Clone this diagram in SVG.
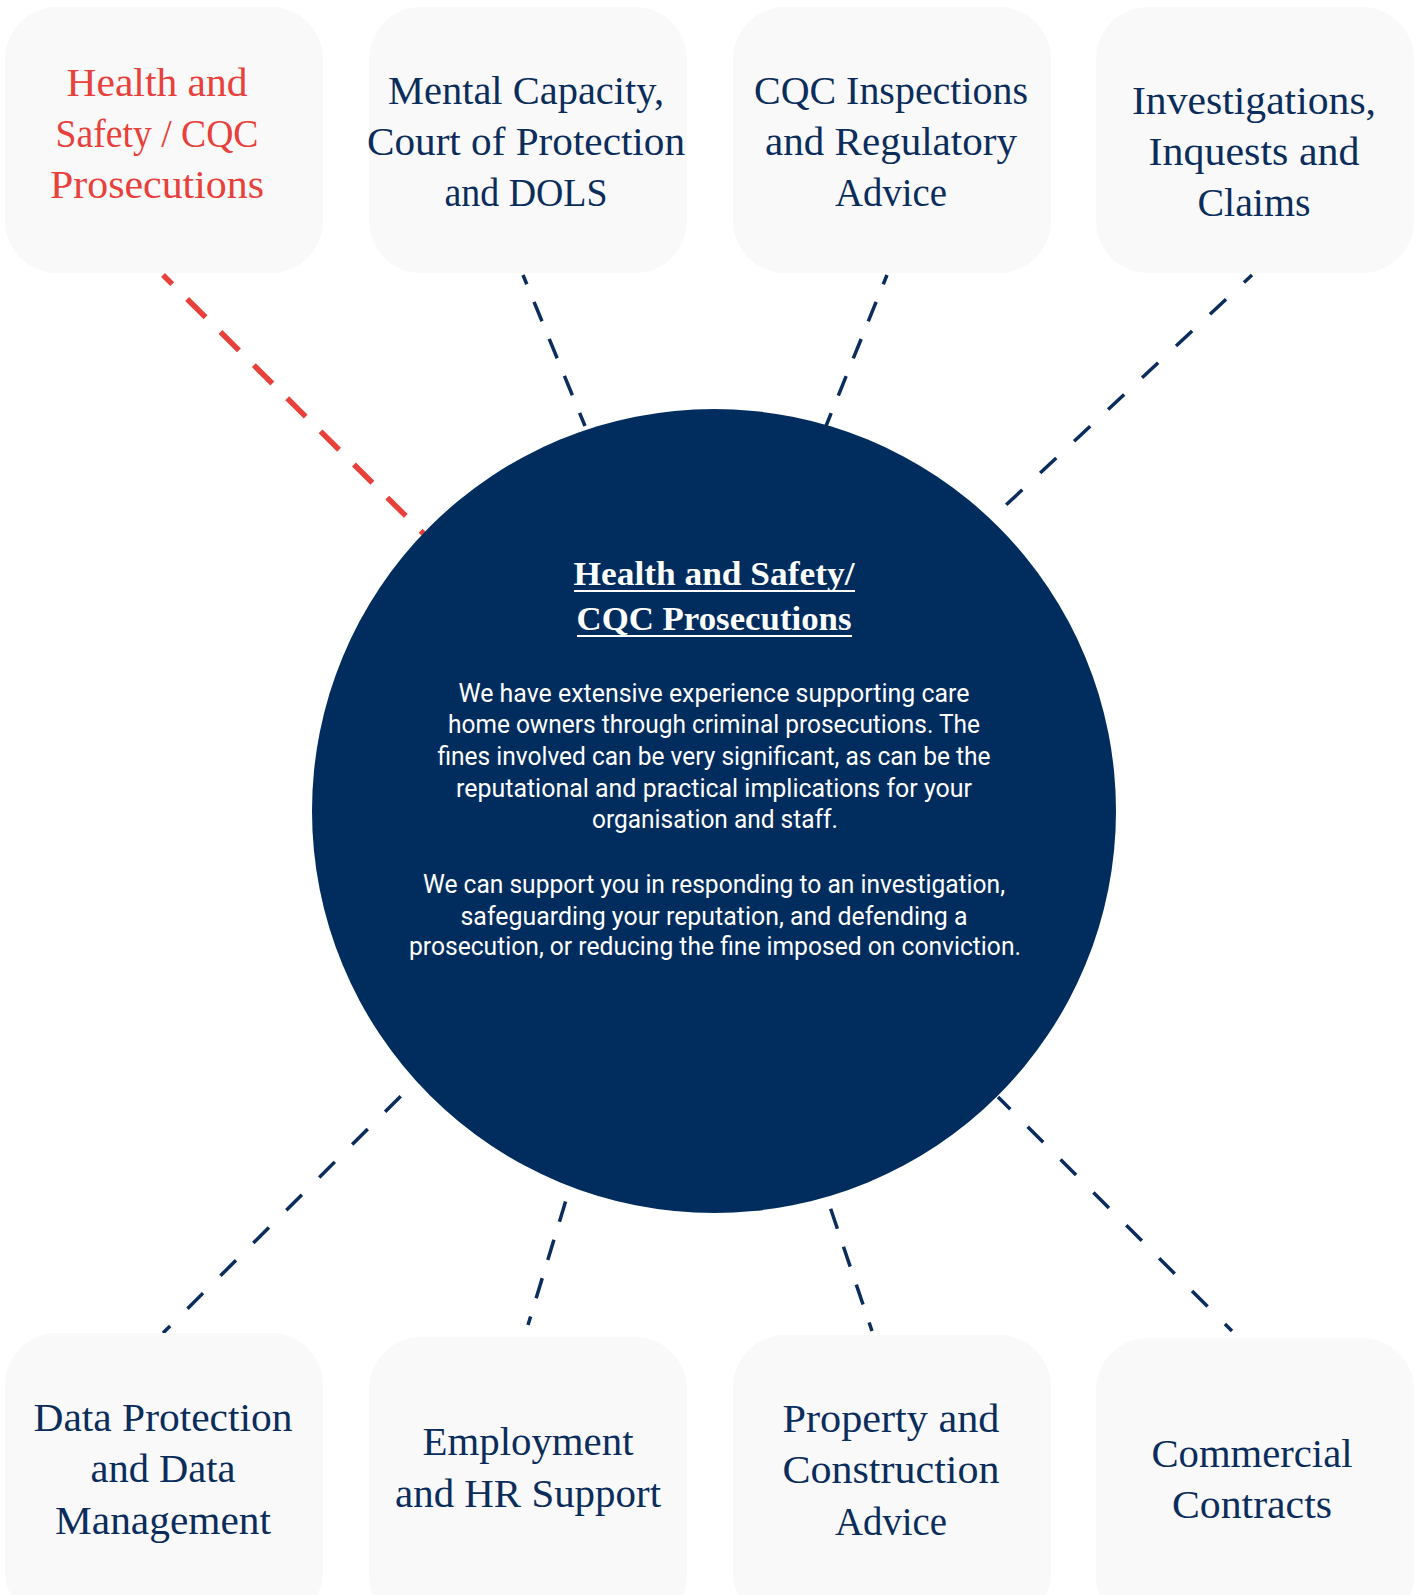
<svg xmlns="http://www.w3.org/2000/svg" width="1419" height="1595" viewBox="0 0 1419 1595">
<defs>
<style>
.box{fill:#f9f9f9}
.lbl{font-family:"Liberation Serif","Times New Roman",serif;font-size:41px;fill:#0b2d5c;text-anchor:middle}
.red{fill:#e8403b}
.conn{fill:none;stroke:#0b2d5c;stroke-width:3.5;stroke-dasharray:21 19}
.conn-red{fill:none;stroke:#e8403b;stroke-width:5.5;stroke-dasharray:26 21;stroke-dashoffset:13}
.diag{stroke-dasharray:22 24.5}
.title{font-family:"Liberation Serif","Times New Roman",serif;font-weight:bold;font-size:33px;fill:#ffffff;text-anchor:middle}
.ul{stroke:#ffffff;stroke-width:2}
.body{font-family:Roboto,"Liberation Sans",sans-serif;font-weight:400;font-size:26px;fill:#ffffff;text-anchor:middle}
</style>
</defs>
<rect width="1419" height="1595" fill="#ffffff"/>

<g id="connectors">
<line class="conn-red" x1="163" y1="275" x2="425" y2="535"/>
<line class="conn" x1="523" y1="275" x2="585" y2="426" stroke-dashoffset="11"/>
<line class="conn" x1="887" y1="275" x2="826" y2="426" stroke-dashoffset="11"/>
<line class="conn diag" x1="1252" y1="275" x2="1006" y2="505" stroke-dashoffset="11"/>
<line class="conn diag" x1="163" y1="1333" x2="417" y2="1080" stroke-dashoffset="12"/>
<line class="conn" x1="528" y1="1325" x2="570" y2="1187" stroke-dashoffset="12"/>
<line class="conn" x1="872" y1="1331" x2="826" y2="1195" stroke-dashoffset="12"/>
<line class="conn diag" x1="1232" y1="1331" x2="998" y2="1097" stroke-dashoffset="12"/>
</g>

<g id="center">
<circle cx="714" cy="811" r="402" fill="#012d5e"/>
<text class="title" x="714" y="585" textLength="281" lengthAdjust="spacingAndGlyphs">Health and Safety/</text>
<line class="ul" x1="574" y1="591" x2="855" y2="591"/>
<text class="title" x="714" y="630" textLength="275" lengthAdjust="spacingAndGlyphs">CQC Prosecutions</text>
<line class="ul" x1="577" y1="636" x2="852" y2="636"/>
<text class="body" x="714" y="702" textLength="511" lengthAdjust="spacingAndGlyphs">We have extensive experience supporting care</text>
<text class="body" x="714" y="733" textLength="532" lengthAdjust="spacingAndGlyphs">home owners through criminal prosecutions. The</text>
<text class="body" x="714" y="765" textLength="553" lengthAdjust="spacingAndGlyphs">fines involved can be very significant, as can be the</text>
<text class="body" x="714" y="797" textLength="516" lengthAdjust="spacingAndGlyphs">reputational and practical implications for your</text>
<text class="body" x="715" y="828" textLength="246" lengthAdjust="spacingAndGlyphs">organisation and staff.</text>
<text class="body" x="714" y="893" textLength="582" lengthAdjust="spacingAndGlyphs">We can support you in responding to an investigation,</text>
<text class="body" x="714" y="925" textLength="507" lengthAdjust="spacingAndGlyphs">safeguarding your reputation, and defending a</text>
<text class="body" x="715" y="955" textLength="612" lengthAdjust="spacingAndGlyphs">prosecution, or reducing the fine imposed on conviction.</text>
</g>

<g id="node-hs">
<rect class="box" x="5" y="7" width="318" height="266" rx="52"/>
<text class="lbl red" x="157" y="96" textLength="181" lengthAdjust="spacingAndGlyphs">Health and</text>
<text class="lbl red" x="157" y="147" textLength="203" lengthAdjust="spacingAndGlyphs">Safety / CQC</text>
<text class="lbl red" x="157" y="198" textLength="214" lengthAdjust="spacingAndGlyphs">Prosecutions</text>
</g>

<g id="node-mental">
<rect class="box" x="369" y="7" width="318" height="266" rx="52"/>
<text class="lbl" x="526" y="104" textLength="276" lengthAdjust="spacingAndGlyphs">Mental Capacity,</text>
<text class="lbl" x="526" y="155" textLength="318" lengthAdjust="spacingAndGlyphs">Court of Protection</text>
<text class="lbl" x="526" y="206" textLength="163" lengthAdjust="spacingAndGlyphs">and DOLS</text>
</g>

<g id="node-cqc">
<rect class="box" x="733" y="7" width="318" height="266" rx="52"/>
<text class="lbl" x="891" y="104" textLength="274" lengthAdjust="spacingAndGlyphs">CQC Inspections</text>
<text class="lbl" x="891" y="155" textLength="252" lengthAdjust="spacingAndGlyphs">and Regulatory</text>
<text class="lbl" x="891" y="206" textLength="112" lengthAdjust="spacingAndGlyphs">Advice</text>
</g>

<g id="node-investigations">
<rect class="box" x="1096" y="7" width="318" height="266" rx="52"/>
<text class="lbl" x="1254" y="114" textLength="244" lengthAdjust="spacingAndGlyphs">Investigations,</text>
<text class="lbl" x="1254" y="165" textLength="211" lengthAdjust="spacingAndGlyphs">Inquests and</text>
<text class="lbl" x="1254" y="216" textLength="113" lengthAdjust="spacingAndGlyphs">Claims</text>
</g>

<g id="node-data">
<rect class="box" x="5" y="1333" width="318" height="290" rx="52"/>
<text class="lbl" x="163" y="1431" textLength="259" lengthAdjust="spacingAndGlyphs">Data Protection</text>
<text class="lbl" x="163" y="1482" textLength="145" lengthAdjust="spacingAndGlyphs">and Data</text>
<text class="lbl" x="163" y="1534" textLength="216" lengthAdjust="spacingAndGlyphs">Management</text>
</g>

<g id="node-employment">
<rect class="box" x="369" y="1337" width="318" height="290" rx="52"/>
<text class="lbl" x="528" y="1455" textLength="211" lengthAdjust="spacingAndGlyphs">Employment</text>
<text class="lbl" x="528" y="1507" textLength="266" lengthAdjust="spacingAndGlyphs">and HR Support</text>
</g>

<g id="node-property">
<rect class="box" x="733" y="1335" width="318" height="290" rx="52"/>
<text class="lbl" x="891" y="1432" textLength="217" lengthAdjust="spacingAndGlyphs">Property and</text>
<text class="lbl" x="891" y="1483" textLength="217" lengthAdjust="spacingAndGlyphs">Construction</text>
<text class="lbl" x="891" y="1535" textLength="112" lengthAdjust="spacingAndGlyphs">Advice</text>
</g>

<g id="node-commercial">
<rect class="box" x="1096" y="1338" width="318" height="290" rx="52"/>
<text class="lbl" x="1252" y="1467" textLength="201" lengthAdjust="spacingAndGlyphs">Commercial</text>
<text class="lbl" x="1252" y="1518" textLength="160" lengthAdjust="spacingAndGlyphs">Contracts</text>
</g>
</svg>
